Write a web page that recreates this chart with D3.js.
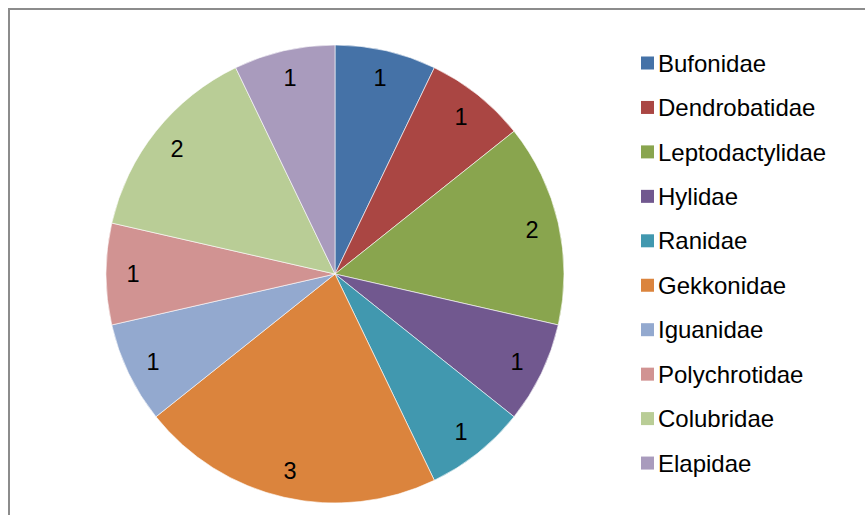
<!DOCTYPE html>
<html>
<head>
<meta charset="utf-8">
<script src="https://cdn.jsdelivr.net/npm/d3@7"></script>
<style>
  body { margin: 0; background: #fff; }
  svg { display: block; }
</style>
</head>
<body>
<div id="chart"></div>
<script>
// Data
const families = ["Bufonidae", "Dendrobatidae", "Leptodactylidae", "Hylidae", "Ranidae",
  "Gekkonidae", "Iguanidae", "Polychrotidae", "Colubridae", "Elapidae"];
const counts = [1, 1, 2, 1, 1, 3, 1, 1, 2, 1];
const colors = ["#4572A7", "#AA4643", "#89A54E", "#71588F", "#4198AF",
  "#DB843D", "#93A9CF", "#D19392", "#B9CD96", "#A99BBD"];

const width = 865, height = 515;
const cx = 335, cy = 274, radius = 229;
const labelRadius = 202;
const font = "'Liberation Sans', Arial, sans-serif";

const svg = d3.select("#chart").append("svg")
  .attr("width", width)
  .attr("height", height)
  .attr("font-family", font);

// chart area border (runs off the right and bottom edges)
svg.append("rect")
  .attr("x", 9).attr("y", 9)
  .attr("width", 880).attr("height", 520)
  .attr("fill", "none")
  .attr("stroke", "#8c8c8c")
  .attr("stroke-width", 2);

const data = families.map((name, i) => ({ name, value: counts[i], color: colors[i] }));

const pie = d3.pie().value(d => d.value).sort(null);
const arc = d3.arc().innerRadius(0).outerRadius(radius);
const labelArc = d3.arc().innerRadius(labelRadius).outerRadius(labelRadius);

const g = svg.append("g").attr("transform", `translate(${cx},${cy})`);
const arcs = pie(data);

g.selectAll("path.slice")
  .data(arcs)
  .join("path")
  .attr("class", "slice")
  .attr("d", arc)
  .attr("fill", d => d.data.color)
  .attr("stroke", "#ffffff")
  .attr("stroke-width", 0.6);

g.selectAll("text.value")
  .data(arcs)
  .join("text")
  .attr("class", "value")
  .attr("x", d => labelArc.centroid(d)[0])
  .attr("y", d => labelArc.centroid(d)[1])
  .attr("dy", "0.36em")
  .attr("text-anchor", "middle")
  .attr("font-size", 23.5)
  .attr("fill", "#000")
  .text(d => d.data.value);

// Legend
const legend = svg.append("g").attr("transform", "translate(641,63)");
const rowStep = 44.45;

const item = legend.selectAll("g.item")
  .data(data)
  .join("g")
  .attr("class", "item")
  .attr("transform", (d, i) => `translate(0,${i * rowStep})`);

item.append("rect")
  .attr("x", 0).attr("y", -6.5)
  .attr("width", 13).attr("height", 13)
  .attr("fill", d => d.color);

item.append("text")
  .attr("x", 17)
  .attr("y", 0)
  .attr("dy", "0.36em")
  .attr("font-size", 24)
  .attr("fill", "#000")
  .text(d => d.name);
</script>
</body>
</html>
